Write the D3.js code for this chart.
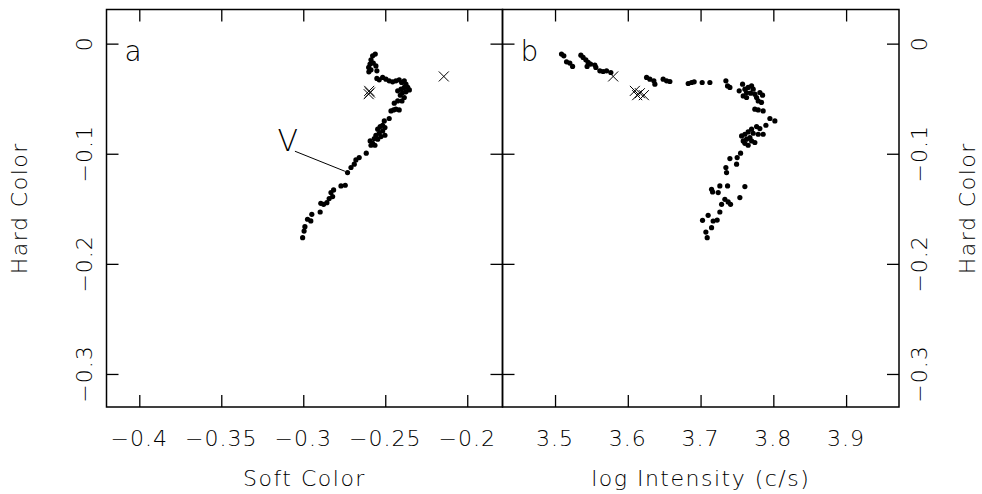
<!DOCTYPE html>
<html>
<head>
<meta charset="utf-8">
<script src="https://cdn.jsdelivr.net/npm/d3@7"></script>
<style>
  body { margin: 0; background: #fff; }
  text { font-family: "DejaVu Sans", sans-serif; font-weight: 200; fill: #000; }
</style>
</head>
<body>
<svg id="chart" width="982" height="494"></svg>
<script>
// panel a: soft colour vs hard colour
const softColor = [-0.2561,-0.2577,-0.2587,-0.2593,-0.2573,-0.2557,-0.2601,-0.2587,-0.2551,-0.2600,
  -0.2551,-0.2537,-0.2516,-0.2496,-0.2476,-0.2455,-0.2435,-0.2415,-0.2400,-0.2384,
  -0.2374,-0.2363,-0.2353,-0.2384,-0.2404,-0.2424,-0.2394,-0.2374,-0.2408,-0.2384,
  -0.2398,-0.2424,-0.2445,-0.2435,-0.2415,-0.2465,-0.2449,-0.2476,-0.2506,-0.2516,
  -0.2502,-0.2531,-0.2546,-0.2516,-0.2537,-0.2557,-0.2502,-0.2526,-0.2567,-0.2546,
  -0.2592,-0.2577,-0.2563,-0.2587,-0.2616,-0.2659,-0.2679,-0.2689,-0.2709,-0.2730,
  -0.2744,-0.2770,-0.2815,-0.2831,-0.2821,-0.2842,-0.2856,-0.2876,-0.2893,-0.2897,
  -0.2948,-0.2954,-0.2974,-0.2990,-0.2995,-0.3004];
const hardColorA = [-0.0095,-0.0111,-0.0147,-0.0186,-0.0177,-0.0202,-0.0216,-0.0238,-0.0247,-0.0256,
  -0.0316,-0.0329,-0.0307,-0.0323,-0.0338,-0.0347,-0.0338,-0.0329,-0.0353,-0.0338,
  -0.0368,-0.0398,-0.0420,-0.0398,-0.0414,-0.0429,-0.0444,-0.0438,-0.0468,-0.0489,
  -0.0520,-0.0520,-0.0541,-0.0595,-0.0602,-0.0611,-0.0602,-0.0680,-0.0702,-0.0741,
  -0.0762,-0.0753,-0.0777,-0.0793,-0.0814,-0.0832,-0.0832,-0.0844,-0.0862,-0.0868,
  -0.0884,-0.0905,-0.0923,-0.0923,-0.0995,-0.1035,-0.1056,-0.1095,-0.1125,-0.1171,
  -0.1286,-0.1292,-0.1329,-0.1353,-0.1389,-0.1407,-0.1444,-0.1459,-0.1450,-0.1529,
  -0.1550,-0.1610,-0.1595,-0.1662,-0.1702,-0.1762];
const softColorX = [-0.2598,-0.2601,-0.2593,-0.2143];
const hardColorAX = [-0.0429,-0.0459,-0.0444,-0.0298];

// panel b: log intensity vs hard colour
const logIntensity = [3.5089,3.5121,3.5158,3.5203,3.5241,3.5355,3.5386,3.5423,3.5455,3.5441,
  3.5488,3.5547,3.5561,3.5616,3.5661,3.5708,3.5767,3.6258,3.6303,3.6358,
  3.6372,3.6486,3.6533,3.6578,3.6830,3.6876,3.6912,3.7022,3.7128,3.7348,
  3.7371,3.7403,3.7531,3.7577,3.7609,3.7632,3.7654,3.7701,3.7723,3.7687,
  3.7586,3.7632,3.7746,3.7770,3.7815,3.7852,3.7792,3.7838,3.7746,3.7792,
  3.7860,3.7953,3.8021,3.7770,3.7815,3.7898,3.7701,3.7654,3.7723,3.7792,
  3.7860,3.7609,3.7564,3.7678,3.7632,3.7586,3.7701,3.7746,3.7609,3.7654,
  3.7550,3.7503,3.7403,3.7495,3.7348,3.7357,3.7609,3.7371,3.7265,3.7151,
  3.7165,3.7242,3.7540,3.7334,3.7379,3.7412,3.7289,3.7265,3.7104,3.7027,
  3.7173,3.7228,3.7151,3.7073,3.7091];
const hardColorB = [-0.0095,-0.0111,-0.0165,-0.0177,-0.0207,-0.0105,-0.0125,-0.0147,-0.0171,-0.0207,
  -0.0186,-0.0195,-0.0216,-0.0247,-0.0253,-0.0247,-0.0262,-0.0307,-0.0323,-0.0338,
  -0.0368,-0.0323,-0.0338,-0.0344,-0.0362,-0.0353,-0.0347,-0.0353,-0.0353,-0.0338,
  -0.0384,-0.0398,-0.0429,-0.0368,-0.0414,-0.0444,-0.0398,-0.0384,-0.0414,-0.0450,
  -0.0475,-0.0489,-0.0459,-0.0489,-0.0444,-0.0468,-0.0520,-0.0534,-0.0595,-0.0602,
  -0.0611,-0.0680,-0.0702,-0.0753,-0.0771,-0.0741,-0.0777,-0.0802,-0.0814,-0.0823,
  -0.0823,-0.0823,-0.0838,-0.0853,-0.0868,-0.0884,-0.0884,-0.0898,-0.0905,-0.0923,
  -0.0995,-0.1035,-0.1044,-0.1095,-0.1125,-0.1171,-0.1298,-0.1292,-0.1292,-0.1323,
  -0.1347,-0.1353,-0.1398,-0.1414,-0.1438,-0.1459,-0.1459,-0.1529,-0.1559,-0.1605,
  -0.1611,-0.1602,-0.1671,-0.1711,-0.1762];
const logIntensityX = [3.5799,3.6097,3.6129,3.6166,3.6221];
const hardColorBX = [-0.0298,-0.0429,-0.0468,-0.0450,-0.0468];

const softTicks = [-0.4, -0.35, -0.3, -0.25, -0.2];
const intensityTicks = [3.5, 3.6, 3.7, 3.8, 3.9];
const hardTicks = [0, -0.1, -0.2, -0.3];

// "V" annotation: label position, then line start and end
const vLabel = [-0.3094, -0.0877];
const vLine = [[-0.3051, -0.0977], [-0.2746, -0.1159]];

const svg = d3.select('#chart');
const yTop = 9.5, yBottom = 407;
const fontSize = 22;
const tickLen = 12;

const y = d3.scaleLinear().domain([-0.33, 0.031]).range([yBottom, yTop]);
const xa = d3.scaleLinear().domain([-0.42, -0.1785]).range([106.5, 502.5]);
const xb = d3.scaleLinear().domain([3.4278, 3.9727]).range([502.5, 899]);

const fmt = d3.format('');

function panel(x, xTicks, px, py, cx, cy, letter, xTitle) {
  const g = svg.append('g');
  const [x0, x1] = x.range();

  // tick marks on all four sides, pointing inward
  g.append('g').attr('transform', `translate(0,${yBottom})`)
    .call(d3.axisBottom(x).tickValues(xTicks).tickSize(-tickLen).tickFormat(''));
  g.append('g').attr('transform', `translate(0,${yTop})`)
    .call(d3.axisTop(x).tickValues(xTicks).tickSize(-tickLen).tickFormat(''));
  g.append('g').attr('transform', `translate(${x0},0)`)
    .call(d3.axisLeft(y).tickValues(hardTicks).tickSize(-tickLen).tickFormat(''));
  g.append('g').attr('transform', `translate(${x1},0)`)
    .call(d3.axisRight(y).tickValues(hardTicks).tickSize(-tickLen).tickFormat(''));
  g.selectAll('.domain').remove();
  g.selectAll('.tick line').attr('stroke', '#000').attr('stroke-width', 1.3);

  g.append('rect')
    .attr('x', x0).attr('y', yTop)
    .attr('width', x1 - x0).attr('height', yBottom - yTop)
    .attr('fill', 'none').attr('stroke', '#000').attr('stroke-width', 1.5);

  // x tick labels
  g.selectAll('.xlab').data(xTicks).enter().append('text')
    .attr('x', d => x(d)).attr('y', 446)
    .attr('text-anchor', 'middle').attr('font-size', fontSize)
    .attr('letter-spacing', 1)
    .text(d => fmt(d));

  g.append('text')
    .attr('x', (x0 + x1) / 2).attr('y', 486)
    .attr('text-anchor', 'middle').attr('font-size', fontSize)
    .attr('letter-spacing', 1.5)
    .text(xTitle);

  g.append('text')
    .attr('x', x0 + 18).attr('y', 61)
    .attr('font-size', 28)
    .text(letter);

  g.selectAll('.dot').data(px).enter().append('circle')
    .attr('cx', d => x(d)).attr('cy', (d, i) => y(py[i]))
    .attr('r', 2.6).attr('fill', '#000');

  const s = 5;
  g.selectAll('.cross').data(cx).enter().append('path')
    .attr('d', (d, i) => {
      const X = x(d), Y = y(cy[i]);
      return `M${X - s},${Y - s}L${X + s},${Y + s}M${X - s},${Y + s}L${X + s},${Y - s}`;
    })
    .attr('stroke', '#000').attr('stroke-width', 1).attr('fill', 'none');
  return g;
}

panel(xa, softTicks, softColor, hardColorA, softColorX, hardColorAX, 'a', 'Soft Color');
panel(xb, intensityTicks, logIntensity, hardColorB, logIntensityX, hardColorBX, 'b', 'log Intensity (c/s)');

// y tick labels, rotated, on both outer sides
function yLabels(xpos) {
  svg.selectAll(null).data(hardTicks).enter().append('text')
    .attr('transform', d => `translate(${xpos},${y(d)}) rotate(-90)`)
    .attr('text-anchor', 'middle').attr('dy', '0.35em')
    .attr('font-size', fontSize).attr('letter-spacing', 1)
    .text(d => fmt(d));
}
yLabels(84);
yLabels(919);

svg.append('text')
  .attr('transform', `translate(19,${(yTop + yBottom) / 2}) rotate(-90)`)
  .attr('text-anchor', 'middle').attr('dy', '0.35em')
  .attr('font-size', fontSize).attr('letter-spacing', 1.5)
  .text('Hard Color');
svg.append('text')
  .attr('transform', `translate(967,${(yTop + yBottom) / 2}) rotate(-90)`)
  .attr('text-anchor', 'middle').attr('dy', '0.35em')
  .attr('font-size', fontSize).attr('letter-spacing', 1.5)
  .text('Hard Color');

// V annotation in panel a
svg.append('text')
  .attr('x', xa(vLabel[0])).attr('y', y(vLabel[1]))
  .attr('text-anchor', 'middle').attr('dy', '0.35em')
  .attr('font-size', 30)
  .text('V');
svg.append('line')
  .attr('x1', xa(vLine[0][0])).attr('y1', y(vLine[0][1]))
  .attr('x2', xa(vLine[1][0])).attr('y2', y(vLine[1][1]))
  .attr('stroke', '#000').attr('stroke-width', 1);
</script>
</body>
</html>
